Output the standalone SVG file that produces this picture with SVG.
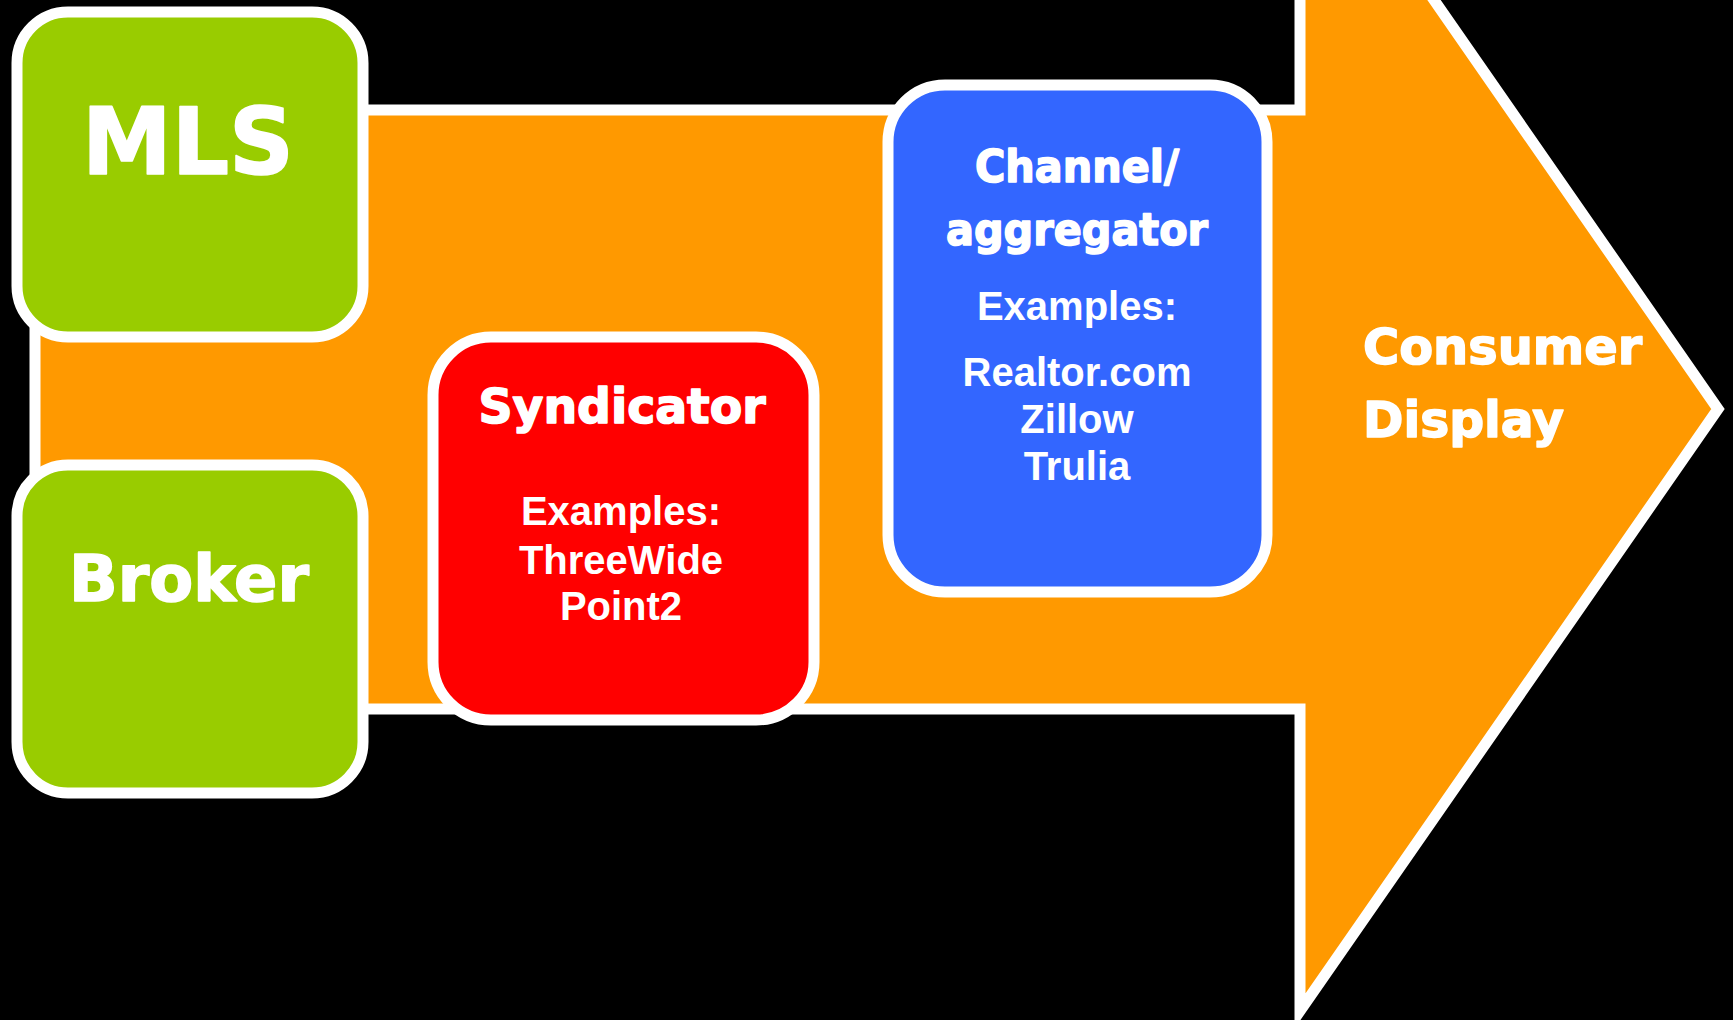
<svg xmlns="http://www.w3.org/2000/svg" width="1733" height="1020" viewBox="0 0 1733 1020">
<style>
.box{stroke:#FFFFFF;stroke-width:11}
.heavy{font-family:"DejaVu Sans","Liberation Sans",sans-serif;font-weight:bold;fill:#FFFFFF;stroke:#FFFFFF;stroke-width:1.6;stroke-linejoin:round}
.bold{font-family:"Liberation Sans",Arial,sans-serif;font-weight:bold;fill:#FFFFFF;font-size:40px}
.c{text-anchor:middle}
</style>
<rect x="0" y="0" width="1733" height="1020" fill="#000000"/>
<g id="connectors">
<path id="flow-arrow" d="M35,110 H1300 V-193 L1718,409 L1300,1011 V709 H35 Z" fill="#FF9900" stroke="#FFFFFF" stroke-width="11" stroke-linejoin="miter" stroke-miterlimit="4"/>
<text class="heavy" x="1363" y="364" font-size="50" textLength="279" lengthAdjust="spacingAndGlyphs">Consumer</text>
<text class="heavy" x="1363" y="437" font-size="50" textLength="201" lengthAdjust="spacingAndGlyphs">Display</text>
</g>
<g id="mls">
<rect class="box" x="17" y="12" width="346" height="325" rx="51" ry="51" fill="#99CC00"/>
<text class="heavy c" x="188" y="174" font-size="93" textLength="212" lengthAdjust="spacingAndGlyphs">MLS</text>
</g>
<g id="broker">
<rect class="box" x="17" y="465" width="346" height="328" rx="51" ry="51" fill="#99CC00"/>
<text class="heavy c" x="189" y="601" font-size="64" textLength="240" lengthAdjust="spacingAndGlyphs">Broker</text>
</g>
<g id="syndicator">
<rect class="box" x="433" y="337" width="381" height="383" rx="58" ry="58" fill="#FF0000"/>
<text class="heavy c" x="622" y="423" font-size="48" textLength="287" lengthAdjust="spacingAndGlyphs">Syndicator</text>
<text class="bold c" x="621" y="525">Examples:</text>
<text class="bold c" x="621" y="574">ThreeWide</text>
<text class="bold c" x="621" y="620">Point2</text>
</g>
<g id="channel">
<rect class="box" x="888" y="85" width="379" height="507" rx="57" ry="57" fill="#3366FF"/>
<text class="heavy c" x="1077" y="182" font-size="44" textLength="204" lengthAdjust="spacingAndGlyphs">Channel/</text>
<text class="heavy c" x="1077" y="245" font-size="44" textLength="262" lengthAdjust="spacingAndGlyphs">aggregator</text>
<text class="bold c" x="1077" y="320">Examples:</text>
<text class="bold c" x="1077" y="386">Realtor.com</text>
<text class="bold c" x="1077" y="433">Zillow</text>
<text class="bold c" x="1077" y="480">Trulia</text>
</g>
</svg>
